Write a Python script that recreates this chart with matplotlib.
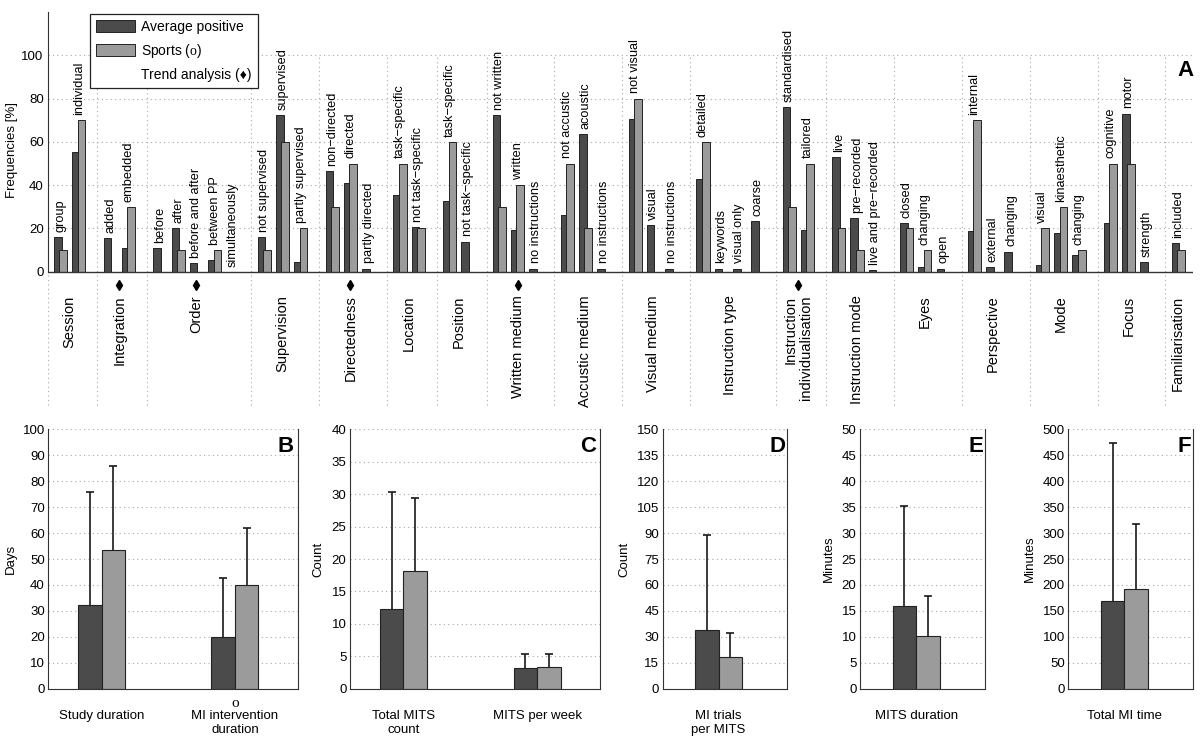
import numpy as np
import matplotlib
matplotlib.use('Agg')
import matplotlib.pyplot as plt
from matplotlib.patches import Patch

plt.rcParams['font.family'] = ['Liberation Sans', 'DejaVu Sans']
plt.rcParams['mathtext.fontset'] = 'custom'
plt.rcParams['mathtext.rm'] = 'Liberation Serif'

# ---- panel A data (frequencies in %) ----
groups = ['Session', 'Integration', 'Order', 'Supervision', 'Directedness', 'Location',
          'Position', 'Written medium', 'Accustic medium', 'Visual medium', 'Instruction type',
          'Instruction\nindividualisation', 'Instruction mode', 'Eyes', 'Perspective', 'Mode',
          'Focus', 'Familiarisation']
trend = [False, True, True, False, True, False, False, True, False, False, False, True,
         False, False, False, False, False, False]
subcats = [
    ['group', 'individual'],
    ['added', 'embedded'],
    ['before', 'after', 'before and after', 'between PP', 'simultaneously'],
    ['not supervised', 'supervised', 'partly supervised'],
    ['non\u2212directed', 'directed', 'partly directed'],
    ['task\u2212specific', 'not task\u2212specific'],
    ['task\u2212specific', 'not task\u2212specific'],
    ['not written', 'written', 'no instructions'],
    ['not accustic', 'acoustic', 'no instructions'],
    ['not visual', 'visual', 'no instructions'],
    ['detailed', 'keywords', 'visual only', 'coarse'],
    ['standardised', 'tailored'],
    ['live', 'pre\u2212recorded', 'live and pre\u2212recorded'],
    ['closed', 'changing', 'open'],
    ['internal', 'external', 'changing'],
    ['visual', 'kinaesthetic', 'changing'],
    ['cognitive', 'motor', 'strength'],
    ['included'],
]
avg_positive = [
    [16.2, 55.1], [15.6, 11.0], [11.0, 20.2, 3.9, 5.4, 0.0], [16.2, 72.2, 4.6],
    [46.6, 41.0, 1.5], [35.6, 20.8], [32.7, 13.9], [72.2, 19.3, 1.5], [26.4, 63.7, 1.5],
    [70.8, 21.6, 1.5], [42.7, 1.5, 1.5, 23.3], [76.2, 19.3], [52.8, 24.8, 0.8],
    [22.5, 2.3, 1.5], [18.8, 2.3, 9.3], [3.1, 17.9, 7.7], [22.5, 73.1, 4.6], [13.1],
]
sports = [
    [10, 70], [0, 30], [0, 10, 0, 10, 0], [10, 60, 20], [30, 50, 0], [50, 20], [60, 0],
    [30, 40, 0], [50, 20, 0], [80, 0, 0], [60, 0, 0, 0], [30, 50], [20, 10, 0],
    [20, 10, 0], [70, 0, 0], [20, 30, 10], [50, 50, 0], [10],
]

# ---- panels B-F data ----
b_labels = ['Study duration', 'MI intervention\nduration']
b_avg, b_avg_err = [32.2, 20.0], [43.8, 22.5]
b_sports, b_sports_err = [53.6, 40.0], [32.4, 22.0]

c_labels = ['Total MITS\ncount', 'MITS per week']
c_avg, c_avg_err = [12.3, 3.2], [18.0, 2.1]
c_sports, c_sports_err = [18.2, 3.4], [11.2, 2.0]

d_labels = ['MI trials\nper MITS']
d_avg, d_avg_err = [33.7], [55.4]
d_sports, d_sports_err = [18.6], [13.4]

e_labels = ['MITS duration']
e_avg, e_avg_err = [16.0], [19.3]
e_sports, e_sports_err = [10.2], [7.6]

f_labels = ['Total MI time']
f_avg, f_avg_err = [168.6], [305.4]
f_sports, f_sports_err = [192.5], [125.3]

DARK = '#4b4b4b'
LIGHT = '#9b9b9b'
EDGE = '#222222'
GRID = '#a8a8a8'
W, H = 1200, 746


def box(l, t, r, b):
    return [l / W, 1 - b / H, (r - l) / W, (b - t) / H]


fig = plt.figure(figsize=(12, 7.46), dpi=100)

# ================= panel A =================
ax = fig.add_axes(box(47.8, 12, 1193, 406))
ax.set_xlim(0, 62.75)
ax.set_ylim(-62, 120)
for sp in ['top', 'right', 'bottom']:
    ax.spines[sp].set_visible(False)
ax.spines['left'].set_bounds(0, 120)
ax.spines['left'].set_color('#333333')
ax.set_yticks([0, 20, 40, 60, 80, 100])
ax.set_xticks([])
ax.tick_params(axis='y', length=0, pad=3, labelsize=9.5)
ax.hlines([20, 40, 60, 80, 100], 0, 62.75, colors=GRID, linestyles=(0, (1, 3)), lw=0.8, zorder=0)
ax.axhline(0, color='#333333', lw=1, zorder=4)

s = 0.0
seps = []
for gi, names in enumerate(subcats):
    seps.append(s)
    centers = s + 0.7 + np.arange(len(names))
    d = avg_positive[gi]
    sp_ = sports[gi]
    ax.bar(centers - 0.15, d, width=0.42, color=DARK, edgecolor=EDGE, lw=0.7, zorder=2)
    ax.bar(centers + 0.15, sp_, width=0.42, color=LIGHT, edgecolor=EDGE, lw=0.7, zorder=3)
    for c, name, v1, v2 in zip(centers, names, d, sp_):
        ax.text(c, max(v1, v2) + 2.4, name, rotation=90, ha='center', va='bottom', fontsize=9.2)
    cx = centers.mean()
    ax.text(cx, -11, groups[gi], rotation=90, ha='center', va='top', fontsize=10.5,
            multialignment='right')
    if trend[gi]:
        ax.plot([cx], [-6], marker='d', color='k', ms=5, ls='none', clip_on=False)
    s += len(names) + 0.72
ax.vlines(seps, -61.5, 100, colors=GRID, linestyles=(0, (1, 3)), lw=0.8, zorder=0)

handles = [Patch(facecolor=DARK, edgecolor=EDGE, lw=0.7),
           Patch(facecolor=LIGHT, edgecolor=EDGE, lw=0.7),
           Patch(facecolor='none', edgecolor='none')]
leg = ax.legend(handles, ['Average positive', r'Sports ($\mathrm{o}$)', 'Trend analysis (\u2666)'],
                loc='upper left', bbox_to_anchor=(90 / W, 1 - 14 / H), bbox_transform=fig.transFigure,
                borderaxespad=0, fancybox=False, framealpha=1, edgecolor='#222222', fontsize=10,
                handlelength=2.8, handleheight=0.95, handletextpad=0.45, labelspacing=0.55,
                borderpad=0.45)
leg.get_frame().set_linewidth(0.9)
fig.text(1185 / W, 1 - 70 / H, 'A', fontsize=16, fontweight='bold', ha='center', va='center')
fig.text(12 / W, 1 - 150 / H, 'Frequencies [%]', rotation=90, ha='center', va='center', fontsize=9.5)


# ================= panels B-F =================
def upper_err(a, xs, vals, errs):
    tops = np.asarray(vals) + np.asarray(errs)
    a.vlines(xs, vals, tops, colors='#1a1a1a', lw=1.2, zorder=3)
    a.plot(xs, tops, ls='none', marker='_', ms=5.6, mew=1.2, color='#1a1a1a', zorder=3)


def small_panel(rect, xlim, labels, avg, avg_err, spo, spo_err, ymax, step, letter,
                ylabel, ylabel_x):
    a = fig.add_axes(box(*rect))
    x = np.arange(1, len(labels) + 1)
    a.set_xlim(*xlim)
    a.set_ylim(0, ymax)
    a.set_yticks(np.arange(0, ymax + step / 2, step))
    a.hlines(np.arange(step, ymax + step / 2, step), xlim[0], xlim[1], colors=GRID,
             linestyles=(0, (1, 3)), lw=0.8, zorder=0)
    a.bar(x - 0.088, avg, width=0.176, color=DARK, edgecolor=EDGE, lw=0.8, zorder=2)
    a.bar(x + 0.088, spo, width=0.176, color=LIGHT, edgecolor=EDGE, lw=0.8, zorder=2)
    upper_err(a, x - 0.088, avg, avg_err)
    upper_err(a, x + 0.088, spo, spo_err)
    a.spines['top'].set_visible(False)
    for sp in ['left', 'right', 'bottom']:
        a.spines[sp].set_color('#333333')
    a.set_xticks([])
    a.tick_params(axis='y', length=0, pad=2.5, labelsize=9.5)
    for xi, lab in zip(x, labels):
        a.annotate(lab, xy=(xi, 0), xycoords=('data', 'axes fraction'), xytext=(0, -15),
                   textcoords='offset points', ha='center', va='top', fontsize=9.5,
                   linespacing=1.3)
    a.text(0.985, 0.975, letter, transform=a.transAxes, ha='right', va='top', fontsize=16,
           fontweight='bold')
    top_px = rect[1]
    bot_px = rect[3]
    fig.text(ylabel_x / W, 1 - (top_px + bot_px) / 2 / H, ylabel, rotation=90, ha='center',
             va='center', fontsize=9.5)
    return a


axb = small_panel((48.3, 429.3, 297.7, 688.7), (0.6, 2.471), b_labels, b_avg, b_avg_err,
                  b_sports, b_sports_err, 100, 10, 'B', 'Days', 11)
axb.annotate('o', xy=(2, 0), xycoords=('data', 'axes fraction'), xytext=(0, -10.3),
             textcoords='offset points', ha='center', va='center', fontsize=11,
             family='Liberation Serif')
small_panel((350, 429.3, 600, 688.7), (0.6, 2.471), c_labels, c_avg, c_avg_err,
            c_sports, c_sports_err, 40, 5, 'C', 'Count', 318)
small_panel((662.7, 429.3, 787.3, 688.7), (0.58, 1.515), d_labels, d_avg, d_avg_err,
            d_sports, d_sports_err, 150, 15, 'D', 'Count', 624)
small_panel((860, 429.3, 985, 688.7), (0.58, 1.515), e_labels, e_avg, e_avg_err,
            e_sports, e_sports_err, 50, 5, 'E', 'Minutes', 829)
small_panel((1068.3, 429.3, 1193.3, 688.7), (0.58, 1.515), f_labels, f_avg, f_avg_err,
            f_sports, f_sports_err, 500, 50, 'F', 'Minutes', 1030)

fig.savefig('out.png', dpi=100)
